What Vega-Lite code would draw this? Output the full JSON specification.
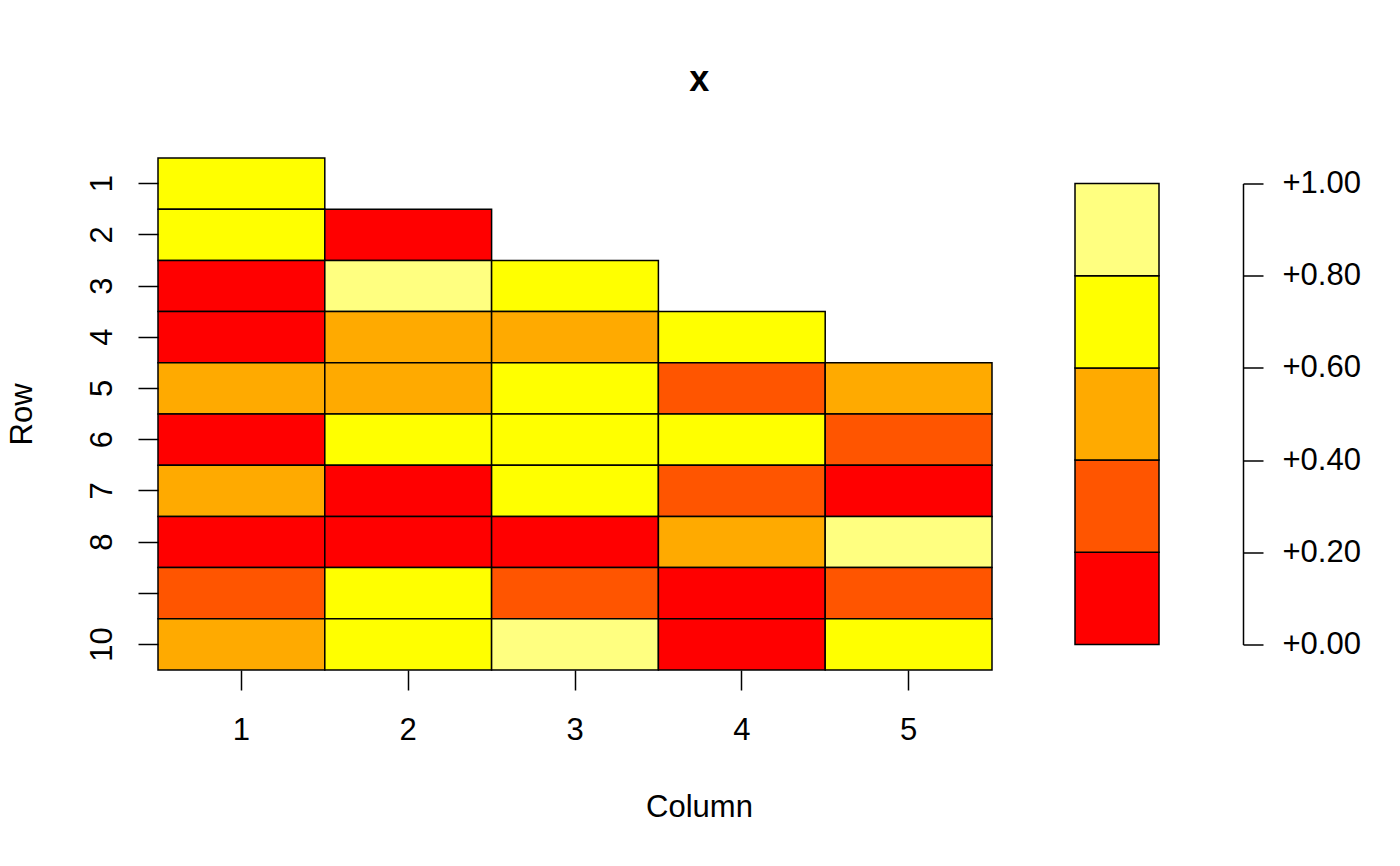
{
  "$schema": "https://vega.github.io/schema/vega-lite/v6.json",
  "background": "white",
  "padding": {"left": 6, "top": 62, "right": 5, "bottom": 5},
  "title": {"text": "x", "fontSize": 36, "fontWeight": "bold", "font": "Liberation Sans", "color": "black", "anchor": "middle", "offset": 58, "dx": 16},
  "config": {
    "font": "Liberation Sans",
    "view": {"stroke": null},
    "axis": {
      "labelFont": "Liberation Sans", "titleFont": "Liberation Sans",
      "labelFontSize": 31, "titleFontSize": 31, "titleFontWeight": "normal",
      "labelColor": "black", "titleColor": "black",
      "tickColor": "black", "tickWidth": 1.5, "domainColor": "black", "domainWidth": 1.5,
      "grid": false, "labelOverlap": false
    }
  },
  "bounds": "flush",
  "center": true,
  "spacing": 83,
  "hconcat": [
    {
      "width": 834,
      "height": 512,
      "data": {"values": [
        {"row": 1, "col": 1, "value": 0.72},
        {"row": 2, "col": 1, "value": 0.65}, {"row": 2, "col": 2, "value": 0.08},
        {"row": 3, "col": 1, "value": 0.15}, {"row": 3, "col": 2, "value": 0.88}, {"row": 3, "col": 3, "value": 0.74},
        {"row": 4, "col": 1, "value": 0.11}, {"row": 4, "col": 2, "value": 0.47}, {"row": 4, "col": 3, "value": 0.53}, {"row": 4, "col": 4, "value": 0.69},
        {"row": 5, "col": 1, "value": 0.44}, {"row": 5, "col": 2, "value": 0.57}, {"row": 5, "col": 3, "value": 0.78}, {"row": 5, "col": 4, "value": 0.31}, {"row": 5, "col": 5, "value": 0.49},
        {"row": 6, "col": 1, "value": 0.05}, {"row": 6, "col": 2, "value": 0.63}, {"row": 6, "col": 3, "value": 0.71}, {"row": 6, "col": 4, "value": 0.66}, {"row": 6, "col": 5, "value": 0.27},
        {"row": 7, "col": 1, "value": 0.52}, {"row": 7, "col": 2, "value": 0.18}, {"row": 7, "col": 3, "value": 0.76}, {"row": 7, "col": 4, "value": 0.36}, {"row": 7, "col": 5, "value": 0.13},
        {"row": 8, "col": 1, "value": 0.02}, {"row": 8, "col": 2, "value": 0.19}, {"row": 8, "col": 3, "value": 0.09}, {"row": 8, "col": 4, "value": 0.42}, {"row": 8, "col": 5, "value": 0.93},
        {"row": 9, "col": 1, "value": 0.33}, {"row": 9, "col": 2, "value": 0.61}, {"row": 9, "col": 3, "value": 0.25}, {"row": 9, "col": 4, "value": 0.14}, {"row": 9, "col": 5, "value": 0.38},
        {"row": 10, "col": 1, "value": 0.55}, {"row": 10, "col": 2, "value": 0.67}, {"row": 10, "col": 3, "value": 0.84}, {"row": 10, "col": 4, "value": 0.06}, {"row": 10, "col": 5, "value": 0.79}
      ]},
      "mark": {"type": "rect", "stroke": "black", "strokeWidth": 1.5},
      "encoding": {
        "x": {"field": "col", "type": "ordinal", "sort": "ascending",
          "scale": {"paddingInner": 0, "paddingOuter": 0},
          "axis": {"title": "Column", "labelAngle": 0, "domain": false, "tickSize": 20, "labelPadding": 25,
            "titleX": 541, "titleY": 146, "titleBaseline": "alphabetic", "titleAlign": "center"}},
        "y": {"field": "row", "type": "ordinal", "sort": "ascending",
          "scale": {"paddingInner": 0, "paddingOuter": 0},
          "axis": {"title": "Row", "labelAngle": -90, "labelAlign": "center", "labelBaseline": "alphabetic",
            "labelPadding": 27, "domain": false, "tickSize": 20,
            "labelExpr": "datum.value == 9 ? '' : datum.label",
            "titleX": -127, "titleY": 256, "titleAngle": -90, "titleBaseline": "alphabetic", "titleAlign": "center"}},
        "color": {"field": "value", "type": "quantitative",
          "scale": {"type": "threshold", "domain": [0.2, 0.4, 0.6, 0.8], "range": ["#FF0000", "#FF5500", "#FFAA00", "#FFFF00", "#FFFF80"]},
          "legend": null}
      }
    },
    {
      "width": 84,
      "height": 461,
      "data": {"values": [
        {"lo": 0.0, "hi": 0.2, "value": 0.1, "k": "key"},
        {"lo": 0.2, "hi": 0.4, "value": 0.3, "k": "key"},
        {"lo": 0.4, "hi": 0.6, "value": 0.5, "k": "key"},
        {"lo": 0.6, "hi": 0.8, "value": 0.7, "k": "key"},
        {"lo": 0.8, "hi": 1.0, "value": 0.9, "k": "key"}
      ]},
      "mark": {"type": "rect", "stroke": "black", "strokeWidth": 1.5},
      "encoding": {
        "x": {"field": "k", "type": "nominal", "axis": null, "scale": {"paddingInner": 0, "paddingOuter": 0}},
        "y": {"field": "lo", "type": "quantitative",
          "scale": {"domain": [0, 1], "nice": false, "zero": false},
          "axis": {"orient": "right", "offset": 84, "values": [0, 0.2, 0.4, 0.6, 0.8, 1], "format": "+.2f",
            "tickSize": 20, "labelPadding": 19, "title": null, "domain": true, "labelFlush": false, "labelBaseline": "middle"}},
        "y2": {"field": "hi"},
        "color": {"field": "value", "type": "quantitative",
          "scale": {"type": "threshold", "domain": [0.2, 0.4, 0.6, 0.8], "range": ["#FF0000", "#FF5500", "#FFAA00", "#FFFF00", "#FFFF80"]},
          "legend": null}
      }
    }
  ]
}
